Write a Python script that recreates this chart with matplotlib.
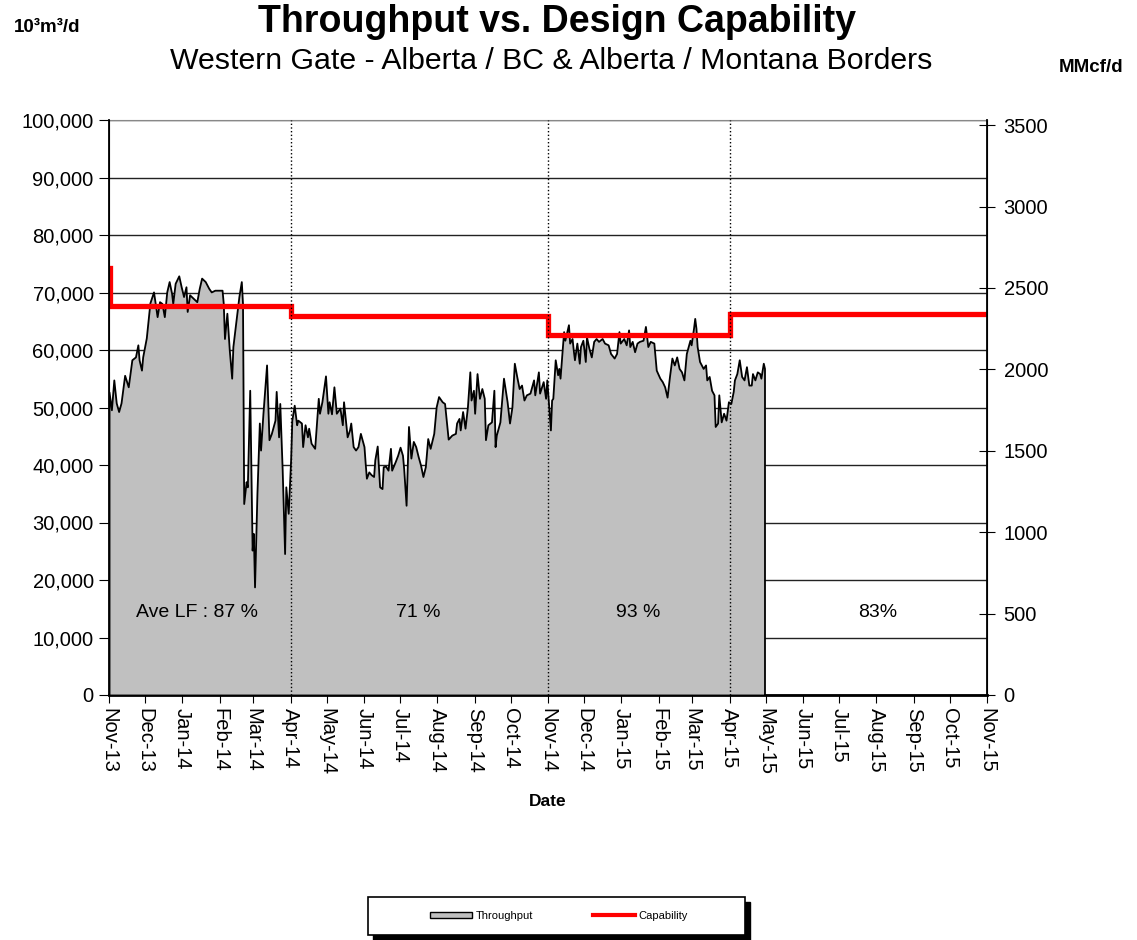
import datetime as dt
import matplotlib
matplotlib.use("Agg")
import matplotlib.pyplot as plt
import matplotlib.dates as mdates
from matplotlib.patches import Rectangle, Patch
from matplotlib.lines import Line2D
from matplotlib.ticker import FuncFormatter, MultipleLocator

plt.rcParams["font.family"] = ["Liberation Sans", "DejaVu Sans"]

# daily throughput (10^3 m3/d); days counted from 1 Nov 2013
start = dt.date(2013, 11, 1)
days = [0, 2, 4, 6, 8, 10, 13, 16, 19, 22, 24, 25, 27, 28, 31, 34, 37, 38, 40, 42,
        44, 46, 48, 50, 52, 53, 55, 58, 60, 62, 64, 65, 67, 70, 73, 75, 77, 80, 83, 85,
        88, 91, 94, 95, 96, 98, 100, 102, 103, 105, 108, 110, 111, 112, 114, 115, 117, 119, 120, 121,
        123, 125, 126, 128, 131, 133, 135, 138, 139, 141, 142, 144, 146, 147, 149, 151, 152, 154,
        156, 157, 160, 161, 163, 165, 166, 168, 171, 173, 174, 175, 177, 180, 182, 183, 185, 187,
        189, 192, 194, 195, 198, 200, 201, 203, 205, 207, 209, 212, 213, 214, 216, 218, 220, 221,
        223, 225, 227, 228, 230, 232, 234, 235, 238, 240, 242, 244, 245, 247, 249, 251, 253, 255,
        257, 259, 261, 263, 265, 267, 270, 272, 274, 277, 279, 282, 285, 288, 289, 291, 292, 294,
        296, 298, 300, 301, 303, 304, 306, 308, 310, 312, 313, 315, 318, 320, 321, 322, 325, 328,
        331, 333, 335, 337, 339, 341, 343, 345, 347, 350, 353, 354, 357, 358,
        361, 363, 364, 367, 368, 369, 371, 373, 374, 375, 377, 378, 379, 380, 382, 383, 385, 386,
        387, 389, 391, 392, 394, 396, 397, 399, 401, 403, 405, 407, 410, 412, 415, 417, 420, 422,
        424, 425, 428, 430, 432, 433, 435, 437, 439, 441, 444, 446, 448, 450, 453, 455, 458, 460,
        462, 464, 466, 468, 470, 472, 474, 476, 478, 480, 483, 484, 486, 487, 488, 489, 491, 494,
        496, 497, 499, 501, 503, 504, 506, 507, 509, 511, 513, 515, 517, 519, 520, 522, 524, 526,
        528, 530, 532, 534, 535, 537, 539, 541, 542, 544, 545]
throughput = [52700, 49600, 54800, 50800, 49300, 50800, 55600, 53600, 58300, 58800, 60900, 58300, 56500, 58800, 62100, 68200, 70100, 68700, 65800, 68400,
              68100, 65800, 70100, 71900, 69900, 68100, 71600, 72900, 71000, 69300, 71000, 66700, 69600, 69000, 68400, 70700, 72500, 71900, 70700, 70100,
              70400, 70400, 70400, 68100, 62000, 66400, 60000, 55100, 60600, 64100, 69300, 71900, 68100, 33300, 37100, 36200, 53000, 25200, 28100, 18800,
              35100, 47300, 42600, 49000, 57400, 44400, 45500, 47800, 52800, 44900, 50700, 39100, 24600, 36200, 31600, 40900, 47800, 50400,
              47000, 47800, 47300, 43200, 47000, 44900, 46400, 43800, 42900, 48700, 51600, 49000, 51000, 55500, 49000, 51000, 48900, 53600,
              49000, 49900, 47000, 51000, 44900, 46100, 47300, 43200, 42600, 43200, 45500, 43200, 40300, 37700, 38800, 38300, 38000, 40900,
              43300, 36200, 35900, 39700, 39800, 39100, 42900, 39100, 40600, 41700, 43100, 41700, 39400, 33000, 46700, 41200, 44100, 43200,
              41500, 40000, 38000, 39700, 44600, 42900, 45500, 50100, 51900, 51000, 50700, 44500, 45200, 45500, 47300, 48100, 46100, 49300,
              46400, 50100, 56200, 51300, 53000, 49000, 55900, 51600, 53300, 51600, 44400, 47000, 47500, 53000, 43200, 45200, 47500, 55100,
              51000, 47300, 50100, 57700, 55400, 53300, 53900, 51300, 52200, 52500, 54800, 52200, 56200, 52500,
              54500, 51600, 54800, 46100, 51300, 51600, 58300, 55700, 56800, 55100, 60600, 63200, 61700, 62600, 64400, 61200, 62000, 60000,
              58300, 61200, 57700, 60600, 61700, 58000, 62300, 60300, 58800, 61500, 62000, 61500, 62000, 61200, 60900, 59400, 58600, 59400,
              63200, 61200, 62000, 60900, 63500, 60600, 61500, 59700, 61200, 61500, 61700, 64100, 60600, 61500, 61200, 56500, 55100, 54500,
              53600, 51800, 55400, 58600, 57400, 58800, 56800, 56200, 54800, 59400, 61700, 60900, 63800, 65500, 63800, 60600, 58000, 56800,
              57400, 54800, 55400, 53000, 52200, 46700, 47300, 52200, 47500, 49000, 47800, 51000, 50700, 52800, 54800, 55900, 58300, 55400,
              54800, 57100, 53900, 53900, 55900, 54800, 56200, 55900, 55100, 57700, 56800]

# design capability steps
cap_dates = [dt.date(2013, 11, 1), dt.date(2013, 11, 2), dt.date(2014, 4, 1),
             dt.date(2014, 11, 1), dt.date(2015, 4, 1), dt.date(2015, 11, 1)]
capability = [74300, 67600, 65900, 62600, 66300, 66300]

# average load factor per period
lf_dates = [dt.date(2014, 1, 13), dt.date(2014, 7, 16), dt.date(2015, 1, 15), dt.date(2015, 8, 2)]
lf_labels = ["Ave LF : 87 %", "71 %", "93 %", "83%"]
period_breaks = [dt.date(2014, 4, 1), dt.date(2014, 11, 1), dt.date(2015, 4, 1)]

dates = [start + dt.timedelta(days=d) for d in days]

fig = plt.figure(figsize=(11.37, 9.40), dpi=100)
ax = fig.add_axes([109/1137, 1-695/940, 878/1137, 575/940])

ax.fill_between(dates, throughput, 0, facecolor="#c0c0c0", edgecolor="black",
                linewidth=1.3, zorder=3)
ax.step(cap_dates, capability, where="post", color="#ff0000", linewidth=3.8,
        zorder=4, solid_joinstyle="miter")
for d in period_breaks:
    ax.axvline(d, color="black", linestyle=":", linewidth=1.0, zorder=5)
for d, s in zip(lf_dates, lf_labels):
    ax.text(d, 14300, s, ha="center", va="center", fontsize=14, zorder=6)

ax.set_xlim(dt.date(2013, 11, 1), dt.date(2015, 11, 1))
ax.set_ylim(0, 100000)
ax.yaxis.set_major_locator(MultipleLocator(10000))
ax.yaxis.set_major_formatter(FuncFormatter(lambda v, p: f"{v:,.0f}"))
ax.xaxis.set_major_locator(mdates.MonthLocator())
ax.xaxis.set_major_formatter(mdates.DateFormatter("%b-%y"))
ax.grid(axis="y", color="#222222", linewidth=1.0)
ax.set_axisbelow(True)
ax.tick_params(axis="y", direction="out", length=7, labelsize=14.5, pad=4)
ax.tick_params(axis="x", direction="out", length=6, labelsize=14.5, labelrotation=-90, pad=3)
for lab in ax.get_xticklabels():
    lab.set_va("top")
ax.set_xlabel("Date", fontsize=12.5, fontweight="bold", labelpad=14)
ax.spines["bottom"].set_linewidth(2.0)
ax.spines["left"].set_linewidth(1.3)
ax.spines["top"].set_color("#888888")

ax2 = ax.twinx()
ax2.set_ylim(0, 100000 * 0.0353147)
ax2.yaxis.set_major_locator(MultipleLocator(500))
ax2.tick_params(axis="y", direction="inout", length=12, labelsize=14.5, pad=6)
ax2.spines["right"].set_linewidth(1.3)
ax2.spines["top"].set_visible(False)

fig.text(557/1137, 1-22/940, "Throughput vs. Design Capability", ha="center", va="center",
         fontsize=27, fontweight="bold")
fig.text(551/1137, 1-61/940, "Western Gate - Alberta / BC & Alberta / Montana Borders",
         ha="center", va="center", fontsize=21.8)
fig.text(47/1137, 1-27/940, "10³m³/d", ha="center", va="center", fontsize=13.5, fontweight="bold")
fig.text(1091/1137, 1-67/940, "MMcf/d", ha="center", va="center", fontsize=13.5, fontweight="bold")

# legend box with drop shadow
bx, by, bw, bh = 368/1137, 1-935/940, 377/1137, 38/940
fig.patches.append(Rectangle((bx + 5/1137, by - 5/940), bw, bh, transform=fig.transFigure,
                             facecolor="black", edgecolor="black", zorder=1))
fig.patches.append(Rectangle((bx, by), bw, bh, transform=fig.transFigure,
                             facecolor="white", edgecolor="black", linewidth=1.2, zorder=2))
handles = [Patch(facecolor="#c0c0c0", edgecolor="black", linewidth=1.0),
           Line2D([], [], color="#ff0000", linewidth=3)]
fig.legend(handles, ["Throughput", "Capability"], loc="center", ncol=2, frameon=False,
           bbox_to_anchor=(559/1137, 1-916/940), fontsize=8, handlelength=3.8,
           handleheight=0.55, handletextpad=0.3, columnspacing=5.4)

fig.savefig("out.png", dpi=100)
